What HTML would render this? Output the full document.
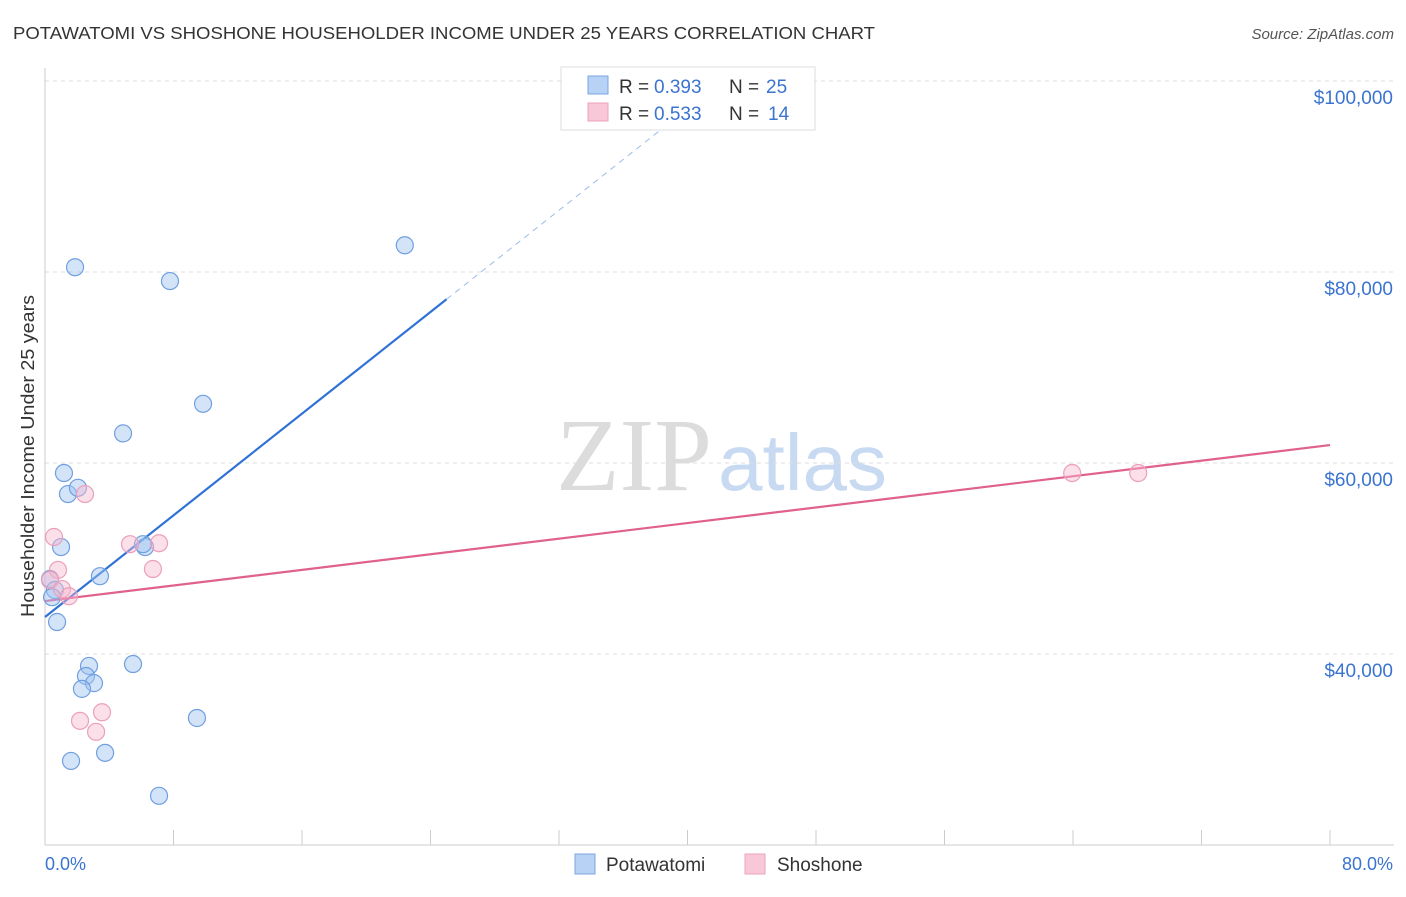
<!DOCTYPE html>
<html><head><meta charset="utf-8"><style>
body{margin:0;background:#fff;font-family:"Liberation Sans",sans-serif;}
svg text{font-family:"Liberation Sans",sans-serif;}
</style></head><body>
<svg id="chart" width="1406" height="892" viewBox="0 0 1406 892" xmlns="http://www.w3.org/2000/svg">
<text x="13" y="39" font-size="17.5" fill="#333" textLength="862" lengthAdjust="spacingAndGlyphs">POTAWATOMI VS SHOSHONE HOUSEHOLDER INCOME UNDER 25 YEARS CORRELATION CHART</text>
<text x="1394" y="39" font-size="15" fill="#555" text-anchor="end" font-style="italic">Source: ZipAtlas.com</text>
<g>
<text x="712" y="490" font-size="104" fill="#dcdcdc" text-anchor="end" style="font-family:'Liberation Serif',serif">ZIP</text>
<text x="718" y="490" font-size="80" fill="#c8daf2">atlas</text>
</g>
<g id="grid"></g>
<g id="axes"></g>
<g id="lines"></g>
<g id="points"></g>
<text transform="translate(34,456) rotate(-90)" font-size="18" fill="#333" text-anchor="middle" textLength="322" lengthAdjust="spacingAndGlyphs">Householder Income Under 25 years</text>
<text x="45" y="870" font-size="18" fill="#3a74d0">0.0%</text>
<text x="1393" y="870" font-size="18" fill="#3a74d0" text-anchor="end">80.0%</text>
<g id="legend">
<rect x="561" y="67" width="254" height="63" fill="#fff" stroke="#ddd"/>
<rect x="588" y="76" width="20" height="18" fill="#b7d2f4" stroke="#7aa6e0"/>
<rect x="588" y="103" width="20" height="18" fill="#f9c8d8" stroke="#eba2bd"/>
<text x="619" y="93" font-size="19" fill="#333">R =</text>
<text x="654" y="93" font-size="19" fill="#3a74d0">0.393</text>
<text x="729" y="93" font-size="19" fill="#333">N =</text>
<text x="766" y="93" font-size="19" fill="#3a74d0">25</text>
<text x="619" y="120" font-size="19" fill="#333">R =</text>
<text x="654" y="120" font-size="19" fill="#3a74d0">0.533</text>
<text x="729" y="120" font-size="19" fill="#333">N =</text>
<text x="768" y="120" font-size="19" fill="#3a74d0">14</text>
</g>
<g>
<rect x="575" y="854" width="20" height="20" fill="#b7d2f4" stroke="#7aa6e0"/>
<text x="606" y="871" font-size="19" fill="#333">Potawatomi</text>
<rect x="745" y="854" width="20" height="20" fill="#f9c8d8" stroke="#eba2bd"/>
<text x="777" y="871" font-size="19" fill="#333">Shoshone</text>
</g>
</svg>
<script>
const blueX=[1.87,7.78,22.4,9.84,4.86,1.18,1.43,2.05,1.0,6.23,6.1,3.42,0.31,0.62,0.44,0.75,2.74,5.48,2.55,3.05,2.3,9.46,3.74,1.62,7.1];
const blueY=[80500,79050,82800,66200,63100,58950,56750,57400,51200,51200,51500,48150,47850,46700,45950,43350,38750,38950,37700,36950,36350,33300,29650,28800,25150];
const pinkX=[0.56,2.49,5.29,7.1,6.72,0.81,0.31,1.06,1.49,3.55,2.18,3.18,63.95,68.06];
const pinkY=[52250,56750,51500,51600,48900,48800,47750,46800,46050,33900,33000,31850,58950,58950];
const yTicks=[40000,60000,80000,100000];
const yTickLabels=["$40,000","$60,000","$80,000","$100,000"];
const xTicks=[0,8,16,24,32,40,48,56,64,72,80];
const blueTrend=[43870,1331];
const pinkTrend=[45540,204.25];
const blueSolidEnd=25;
const NS="http://www.w3.org/2000/svg";
const xs=p=>45+p*1285/80;
const ys=v=>654-(v-40000)*191/20000;
function mk(tag,attrs,parent){const e=document.createElementNS(NS,tag);for(const k in attrs)e.setAttribute(k,attrs[k]);document.getElementById(parent).appendChild(e);return e;}
yTicks.forEach((v,i)=>{
 const l=mk('line',{x1:45,x2:1394,y1:ys(v),y2:ys(v),stroke:'#ddd','stroke-dasharray':'4,4'},'grid');
 
 
 const t=mk('text',{x:1393,y:ys(v)+23,'font-size':19,fill:'#3a74d0','text-anchor':'end'},'grid');
 t.textContent=yTickLabels[i];
 
 
});
mk('line',{x1:45,x2:45,y1:68,y2:845,stroke:'#ccc'},'axes');
mk('line',{x1:45,x2:1394,y1:845,y2:845,stroke:'#ccc'},'axes');
xTicks.forEach(p=>{const t=mk('line',{x1:xs(p),x2:xs(p),y1:830,y2:845,stroke:'#ccc'},'axes');
 
 });
const bEndDash=(100000-blueTrend[0])/blueTrend[1];
const l1=mk('line',{x1:xs(0),y1:ys(blueTrend[0]),x2:xs(blueSolidEnd),y2:ys(blueTrend[0]+blueTrend[1]*blueSolidEnd),stroke:'#2f72d6','stroke-width':2.2},'lines');

const l2=mk('line',{x1:xs(blueSolidEnd),y1:ys(blueTrend[0]+blueTrend[1]*blueSolidEnd),x2:xs(bEndDash),y2:ys(100000),stroke:'#9bbce8','stroke-width':1,'stroke-dasharray':'6,5'},'lines');

const l3=mk('line',{x1:xs(0),y1:ys(pinkTrend[0]),x2:xs(80),y2:ys(pinkTrend[0]+pinkTrend[1]*80),stroke:'#e0608e','stroke-width':2.2},'lines');

blueX.forEach((x,i)=>{const c=mk('circle',{cx:xs(x),cy:ys(blueY[i]),r:8.5,fill:'rgba(160,196,240,0.45)',stroke:'#6f9fe0','stroke-width':1.2},'points');
 
 });
pinkX.forEach((x,i)=>{const c=mk('circle',{cx:xs(x),cy:ys(pinkY[i]),r:8.5,fill:'rgba(246,184,206,0.45)',stroke:'#eb9fbb','stroke-width':1.2},'points');
 
 });
const svg=document.getElementById('chart');
svg.appendChild(document.getElementById('legend'));
</script>
</body></html>
